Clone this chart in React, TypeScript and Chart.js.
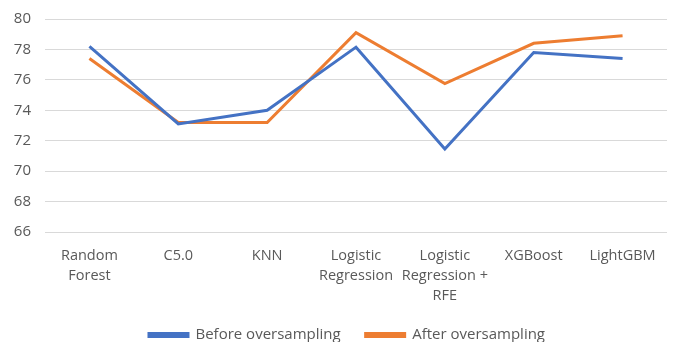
import React, { useEffect, useRef } from "react";
import { Chart, registerables } from "chart.js";

Chart.register(...registerables);

const categories: (string | string[])[] = [
  ["Random", "Forest"],
  "C5.0",
  "KNN",
  ["Logistic", "Regression"],
  ["Logistic", "Regression +", "RFE"],
  "XGBoost",
  "LightGBM",
];
const beforeOversampling = [78.2, 73.1, 74.0, 78.15, 71.45, 77.8, 77.4];
const afterOversampling = [77.4, 73.2, 73.2, 79.1, 75.75, 78.4, 78.9];
const yTicks = { min: 66, max: 80, step: 2 };

const FONT = "'Open Sans', 'Liberation Sans', sans-serif";
const TEXT = "#595959";

// Let tick labels overflow their scale boxes instead of being clipped
const unclipLabels = {
  id: "unclipLabels",
  beforeDraw(chart: any) {
    Object.values(chart.scales).forEach((s: any) => {
      s._computeLabelArea = () => undefined;
    });
  },
};

export default function App() {
  const ref = useRef<HTMLCanvasElement | null>(null);

  useEffect(() => {
    if (!ref.current) return;
    const chart = new Chart(ref.current, {
      type: "line",
      data: {
        labels: categories,
        datasets: [
          {
            label: "Before oversampling",
            data: beforeOversampling,
            borderColor: "#4472C4",
            backgroundColor: "#4472C4",
            borderWidth: 3,
            pointRadius: 0,
            tension: 0,
          },
          {
            label: "After oversampling",
            data: afterOversampling,
            borderColor: "#ED7D31",
            backgroundColor: "#ED7D31",
            borderWidth: 3,
            pointRadius: 0,
            tension: 0,
          },
        ],
      },
      plugins: [unclipLabels],
      options: {
        responsive: false,
        animation: false,
        layout: { padding: { top: 19, right: 7, left: 27, bottom: -10.5 } },
        plugins: {
          tooltip: { enabled: false },
          legend: {
            position: "bottom",
            labels: {
              boxWidth: 39,
              boxHeight: 3,
              padding: 25,
              color: TEXT,
              font: { family: FONT, size: 15 },
            },
          },
        },
        scales: {
          x: {
            offset: true,
            grid: { display: false },
            border: { display: false },
            ticks: {
              color: TEXT,
              font: { family: FONT, size: 14.5, lineHeight: 1.38 },
              maxRotation: 0,
              autoSkip: false,
              padding: 6,
            },
            afterFit: (scale: any) => {
              scale.height = 70.5;
            },
          },
          y: {
            min: yTicks.min,
            max: yTicks.max,
            grid: { color: "#d9d9d9", lineWidth: 1, drawTicks: false },
            border: { display: false },
            ticks: {
              stepSize: yTicks.step,
              color: TEXT,
              font: { family: FONT, size: 15, lineHeight: 1 },
              padding: 14,
            },
            afterFit: (scale: any) => {
              scale.width = 18;
              scale.paddingTop = 0;
              scale.paddingBottom = 0;
            },
          },
        },
      },
    });
    return () => chart.destroy();
  }, []);

  return (
    <div style={{ position: "fixed", left: 0, top: 0, width: 674, height: 342, background: "#fff" }}>
      <canvas ref={ref} width={674} height={342} />
    </div>
  );
}
